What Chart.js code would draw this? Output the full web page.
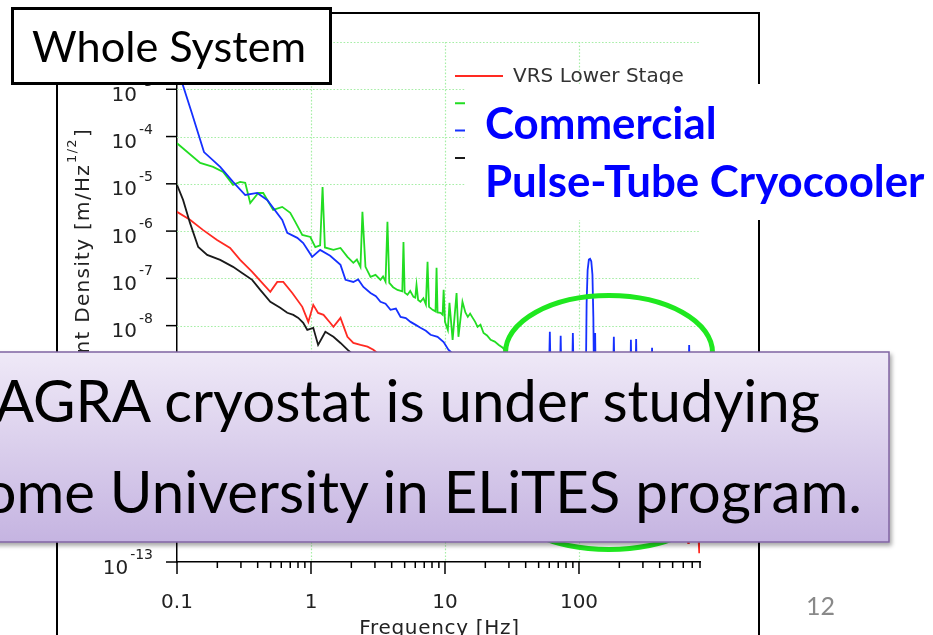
<!DOCTYPE html>
<html>
<head>
<meta charset="utf-8">
<script src="https://cdn.jsdelivr.net/npm/chart.js@4.4.1/dist/chart.umd.min.js"></script>
<style>
  html, body { margin:0; padding:0; background:#fff; overflow:hidden; }
  #wrap { position:absolute; left:0; top:0; width:933px; height:635px; }
  #ov { position:absolute; left:0; top:0; pointer-events:none; }
</style>
</head>
<body>
<div id="wrap"><canvas id="c" width="933" height="635"></canvas></div>
<svg id="ov" width="933" height="635" xmlns="http://www.w3.org/2000/svg">
  <defs>
    <linearGradient id="pg" x1="0" y1="0" x2="0" y2="1">
      <stop offset="0" stop-color="#efe9f7"/>
      <stop offset="1" stop-color="#c5b4e1"/>
    </linearGradient>
    <filter id="sh" x="-5%" y="-10%" width="115%" height="130%">
      <feDropShadow dx="2" dy="3" stdDeviation="2" flood-color="#000" flood-opacity="0.35"/>
    </filter>
  </defs>
  <rect x="57" y="13" width="702" height="700" fill="none" stroke="#000" stroke-width="2"/>
  <path d="M505.5,352.5 A103.5,57 0 0 1 712.5,352.5 L712.5,499.5 A103.5,50 0 0 1 505.5,499.5 Z" fill="none" stroke="#1fe81f" stroke-width="5"/>
  <rect x="465" y="84" width="480" height="136" fill="#fff"/>
  <text id="tc1" x="485" y="139" font-family="Lato" font-weight="bold" font-size="43" fill="#0000ff">Commercial</text>
  <text id="tc2" x="485" y="197" font-family="Lato" font-weight="bold" font-size="43" fill="#0000ff">Pulse-Tube Cryocooler</text>
  <rect x="12.5" y="8.5" width="318" height="75" fill="#fff" stroke="#000" stroke-width="3"/>
  <text id="tw" x="32" y="62" font-family="Lato" font-size="44" fill="#000">Whole System</text>
  <rect x="-10" y="352" width="899" height="190" fill="url(#pg)" stroke="#8064a2" stroke-width="1.5" filter="url(#sh)"/>
  <text id="tp1" x="0" y="422" font-family="Lato" font-size="56" fill="#000">KAGRA cryostat is under studying</text>
  <text id="tp2" x="0" y="513" font-family="Lato" font-size="56" fill="#000">Rome University in ELiTES program.</text>
  <text id="tn" x="806" y="615" font-family="Lato" font-size="26" fill="#898989">12</text>
</svg>
<script>
// ---------------- data ----------------
const seriesLabels = ['VRS Lower Stage', 'Cold Head', 'VRS Upper Stage', 'Ground'];

const redFreq = [0.1,0.125,0.156,0.199,0.249,0.296,0.364,0.432,0.497,0.56,0.621,0.725,0.861,0.955,1.04,1.13,1.24,1.39,1.47,1.66,1.87,2.07,2.34,2.64,2.92,4,10,30,100,300,600,645,653,660,780,789,795,800];
const redVal  = [2.55e-6,1.73e-6,1.06e-6,6.5e-7,4.4e-7,2.46e-7,1.37e-7,8e-8,5.2e-8,8.4e-8,8.4e-8,4.9e-8,2.5e-8,1.2e-8,2.75e-8,1.86e-8,1.69e-8,1.15e-8,9.4e-9,1.46e-8,5.8e-9,4.3e-9,3.9e-9,3.6e-9,3.1e-9,1.5e-9,2e-10,2e-11,1.5e-12,5e-13,3.5e-13,3.3e-13,2.5e-13,3.3e-13,3.3e-13,1.6e-13,3e-13,3.3e-13];

const greenFreq = [0.1,0.149,0.186,0.221,0.262,0.296,0.323,0.352,0.404,0.44,
  0.522,0.61,0.7,0.763,0.861,0.989,1.077,1.17,1.22,1.27,
  1.47,1.66,1.87,2.07,2.2,2.34,2.42,2.55,2.78,3.03,3.3,
  3.45,3.6,3.72,3.84,4.1,4.42,4.8,4.9,5.0,5.25,5.5,5.82,6.0,
  6.13,6.3,6.56,6.9,7.2,7.41,7.6,8.08,8.5,8.65,8.8,
  9.27,9.6,9.77,10.0,10.5,10.8,11.4,12.2,12.6,13.5,
  14.2,14.8,15.4,16.1,16.8,17.5,18.4,19.4,20.6,21.9,23.5,25.2,27,35,50,100,
  200,400,800];
const greenVal = [7.2e-5,2.77e-5,2.28e-5,1.79e-5,9.5e-6,1.1e-5,1.05e-5,3.94e-6,6.4e-6,6.4e-6,
  2.8e-6,3.25e-6,2.43e-6,1.57e-6,8.3e-7,7.5e-7,4.6e-7,5e-7,8.6e-6,4.5e-7,
  4e-7,4.4e-7,2.85e-7,2.13e-7,2.5e-7,1.75e-7,2.55e-6,1.75e-7,1.08e-7,1.19e-7,9.3e-8,
  1.1e-7,8.5e-8,1.57e-6,8e-8,6.5e-8,5.7e-8,5.3e-8,5.9e-7,5e-8,4.5e-8,5.4e-8,4.07e-8,3.9e-8,
  7.3e-8,3.5e-8,3.2e-8,3.8e-8,2.8e-8,2.23e-7,2.5e-8,2.16e-8,2e-8,1.67e-7,1.9e-8,
  1.86e-8,1.7e-8,5.7e-8,1.2e-8,8.1e-9,3.03e-8,5e-9,4.9e-8,5.8e-9,3.2e-8,
  1.9e-8,1.53e-8,1.8e-8,1.46e-8,1.2e-8,9.4e-9,1.05e-8,7e-9,6.2e-9,5e-9,4.6e-9,3.9e-9,3.4e-9,1.5e-9,7e-10,2e-10,
  8e-11,4e-11,2e-11];

const blueFreq = [0.1,0.129,0.159,0.21,0.262,0.323,0.397,0.471,0.61,0.665,0.79,0.875,1.02,1.17,1.39,1.66,1.81,2.07,2.25,2.46,2.78,3.05,3.3,3.6,3.92,4.3,4.66,5.1,5.53,6.0,6.56,7.2,7.8,8.8,9.77,10.6,14,20,30,45,
  59,60.6,62,71.5,73,74.5,88,90,92,112,114,116,118.5,121,123.5,126,128,130,132,134,178,182,186,240,244,248,262,267,272,344,351,358,650,664,678,800];
const blueVal  = [3e-3,3.15e-4,4.7e-5,2.28e-5,1.1e-5,5.8e-6,6.4e-6,4.57e-6,1.73e-6,9.2e-7,7.2e-7,5.6e-7,2.85e-7,4.0e-7,3.0e-7,1.93e-7,9.3e-8,8.4e-8,9.5e-8,6.6e-8,4.9e-8,4.2e-8,3.2e-8,2.9e-8,2.16e-8,2.3e-8,1.53e-8,1.45e-8,1.2e-8,1.05e-8,9e-9,7.8e-9,6.4e-9,5.8e-9,4.5e-9,3.1e-9,1.5e-9,7e-10,4e-10,2.5e-10,
  2e-10,7.4e-9,2e-10,2e-10,6.1e-9,2e-10,2e-10,7e-9,2e-10,2e-10,3e-8,1.5e-7,2.5e-7,2.6e-7,2.3e-7,1.2e-7,1.5e-8,2e-10,7e-9,2e-10,2e-10,5.8e-9,2e-10,2e-10,5e-9,2e-10,2e-10,5.2e-9,2e-10,2e-10,3.4e-9,2e-10,2e-10,3.9e-9,2e-10,2e-10];

const blackFreq = [0.1,0.111,0.125,0.144,0.168,0.21,0.262,0.306,0.364,0.418,0.497,0.589,0.665,0.738,0.804,0.875,0.938,1.04,1.13,1.28,1.39,1.47,1.66,1.87,3,10,30,100,300,800];
const blackVal  = [9.5e-6,4.57e-6,1.49e-6,4.6e-7,3.14e-7,2.46e-7,1.75e-7,1.3e-7,9.3e-8,5.7e-8,3.2e-8,2.38e-8,1.87e-8,1.69e-8,1.46e-8,1.15e-8,8.1e-9,9e-9,3.9e-9,7.4e-9,6.4e-9,5.8e-9,4.3e-9,3.1e-9,1e-9,1e-10,2e-11,3e-12,1e-12,6e-13];

const xMajorTicks = [0.1, 1, 10, 100];
const xTickLabels = ['0.1', '1', '10', '100'];
const xMinorTicks = [0.2,0.3,0.4,0.5,0.6,0.7,0.8,0.9,2,3,4,5,6,7,8,9,20,30,40,50,60,70,80,90,200,300,400,500,600,700,800];
const yExponents = [-13,-12,-11,-10,-9,-8,-7,-6,-5,-4,-3,-2];
const xTitle = 'Frequency [Hz]';
const yTitleMain = 'Displacement Density [m/Hz';
const yTitleSup = '1/2';
const yTitleEnd = ']';

// ---------------- chart ----------------
const colors = ['#ff2a22', '#22dd22', '#1530ff', '#1a1a1a'];
function toXY(f, v) { return f.map((x, i) => ({ x: x, y: v[i] })); }
const datasets = [
  { label: seriesLabels[0], data: toXY(redFreq, redVal) },
  { label: seriesLabels[1], data: toXY(greenFreq, greenVal) },
  { label: seriesLabels[2], data: toXY(blueFreq, blueVal) },
  { label: seriesLabels[3], data: toXY(blackFreq, blackVal) }
].map((d, i) => Object.assign(d, {
  borderColor: colors[i], backgroundColor: colors[i], borderWidth: 1.8,
  pointRadius: 0, tension: 0, fill: false, order: [3, 1, 0, 2][i]
}));

const FONT = '"DejaVu Sans", sans-serif';
const decor = {
  id: 'decor',
  beforeDatasetsDraw(chart) {
    const { ctx, chartArea: a, scales: { x, y } } = chart;
    ctx.save();
    ctx.strokeStyle = '#a6eea6';
    ctx.lineWidth = 1.2;
    ctx.setLineDash([1.6, 1.8]);
    xMajorTicks.forEach(v => {
      if (v <= x.min) return;
      const px = Math.round(x.getPixelForValue(v)) + 0.5;
      ctx.beginPath(); ctx.moveTo(px, a.top); ctx.lineTo(px, a.bottom); ctx.stroke();
    });
    yExponents.forEach(e => {
      if (e === -13) return;
      const py = Math.round(y.getPixelForValue(Math.pow(10, e))) + 0.5;
      ctx.beginPath(); ctx.moveTo(a.left, py); ctx.lineTo(a.right, py); ctx.stroke();
    });
    ctx.restore();
  },
  afterDraw(chart) {
    const { ctx, chartArea: a, scales: { x, y } } = chart;
    ctx.save();
    ctx.strokeStyle = '#000'; ctx.lineWidth = 1.5; ctx.setLineDash([]);
    // x ticks
    xMajorTicks.forEach(v => {
      const px = x.getPixelForValue(v);
      ctx.beginPath(); ctx.moveTo(px, a.bottom); ctx.lineTo(px, a.bottom + 12); ctx.stroke();
    });
    xMinorTicks.forEach(v => {
      const px = x.getPixelForValue(v);
      ctx.beginPath(); ctx.moveTo(px, a.bottom); ctx.lineTo(px, a.bottom + 6); ctx.stroke();
    });
    ctx.fillStyle = '#222';
    ctx.font = '20px ' + FONT; ctx.textAlign = 'center'; ctx.textBaseline = 'alphabetic';
    xMajorTicks.forEach((v, i) => ctx.fillText(xTickLabels[i], x.getPixelForValue(v), a.bottom + 46));
    ctx.font = '20px ' + FONT;
    ctx.letterSpacing = '0.7px';
    ctx.fillText(xTitle, (a.left + a.right) / 2 + 1, 634);
    ctx.letterSpacing = '0px';
    // y ticks
    yExponents.forEach(e => {
      const py = y.getPixelForValue(Math.pow(10, e));
      ctx.beginPath(); ctx.moveTo(a.left - 11, py); ctx.lineTo(a.left, py); ctx.stroke();
      const right = a.left - 24;
      ctx.textAlign = 'left';
      ctx.font = '14px ' + FONT;
      const sup = '-' + (-e);
      const w2 = ctx.measureText(sup).width;
      ctx.fillText(sup, right - w2, py - 3);
      ctx.font = '20px ' + FONT;
      const w1 = ctx.measureText('10').width;
      ctx.fillText('10', right - w2 - 2 - w1, py + 11.5);
    });
    // y title (rotated)
    ctx.save();
    ctx.translate(89, 0);
    ctx.rotate(-Math.PI / 2);
    ctx.textAlign = 'left';
    ctx.letterSpacing = '1.3px';
    ctx.font = '20px ' + FONT;
    const m = ctx.measureText(yTitleMain).width;
    const b = ctx.measureText(yTitleEnd).width;
    ctx.font = '13px ' + FONT;
    const s = ctx.measureText(yTitleSup).width;
    const start = -128 - (m + s + b + 2);
    ctx.font = '20px ' + FONT;
    ctx.fillText(yTitleMain, start, 0);
    ctx.fillText(yTitleEnd, start + m + s + 2, 0);
    ctx.font = '13px ' + FONT;
    ctx.fillText(yTitleSup, start + m + 1, -13);
    ctx.letterSpacing = '0px';
    ctx.restore();
    // legend
    chart.data.datasets.forEach((d, i) => {
      const ly = 76 + i * 27.3;
      ctx.strokeStyle = d.borderColor; ctx.lineWidth = 2;
      ctx.beginPath(); ctx.moveTo(455, ly); ctx.lineTo(503, ly); ctx.stroke();
      ctx.fillStyle = '#333'; ctx.font = '20px ' + FONT; ctx.textBaseline = 'middle'; ctx.textAlign = 'left';
      ctx.fillText(d.label, 513, ly + 1);
    });
    ctx.restore();
  }
};

new Chart(document.getElementById('c'), {
  type: 'line',
  data: { datasets: datasets },
  options: {
    responsive: false, animation: false, devicePixelRatio: 1,
    layout: { padding: { left: 0, top: 42, right: 233, bottom: 0 } },
    plugins: { legend: { display: false }, tooltip: { enabled: false } },
    scales: {
      x: { type: 'logarithmic', min: 0.1, max: 800,
           grid: { display: false }, ticks: { display: false },
           border: { display: true, color: '#000', width: 1.5 },
           afterFit(s) { s.height = 73; } },
      y: { type: 'logarithmic', min: 1e-13, max: 1e-2,
           grid: { display: false }, ticks: { display: false },
           border: { display: true, color: '#000', width: 1.5 },
           afterFit(s) { s.width = 177; } }
    }
  },
  plugins: [decor]
});

// ---------------- fit slide texts ----------------
function fitSize(el, target, skipChars) {
  const fs = parseFloat(el.getAttribute('font-size'));
  const tot = el.getComputedTextLength();
  const skip = skipChars ? el.getSubStringLength(0, skipChars) : 0;
  return fs * target / (tot - skip);
}
function layoutTexts() {
  const tc1 = document.getElementById('tc1'), tc2 = document.getElementById('tc2');
  const f1 = fitSize(tc1, 234), f2 = fitSize(tc2, 435);
  const fc = (f1 + f2) / 2;
  tc1.setAttribute('font-size', fc); tc2.setAttribute('font-size', fc);
  const tw = document.getElementById('tw');
  tw.setAttribute('font-size', fitSize(tw, 274));
  const tn = document.getElementById('tn');
  tn.setAttribute('font-size', fitSize(tn, 29));
  const p1 = document.getElementById('tp1'), p2 = document.getElementById('tp2');
  const g1 = fitSize(p1, 821, 1), g2 = fitSize(p2, 850, 2);
  const fp = (g1 + g2) / 2;
  p1.setAttribute('font-size', fp); p2.setAttribute('font-size', fp);
  p1.setAttribute('x', 820 - p1.getComputedTextLength());
  p2.setAttribute('x', 862 - p2.getComputedTextLength());
}
layoutTexts();
if (document.fonts && document.fonts.ready) document.fonts.ready.then(layoutTexts);
</script>
</body>
</html>
